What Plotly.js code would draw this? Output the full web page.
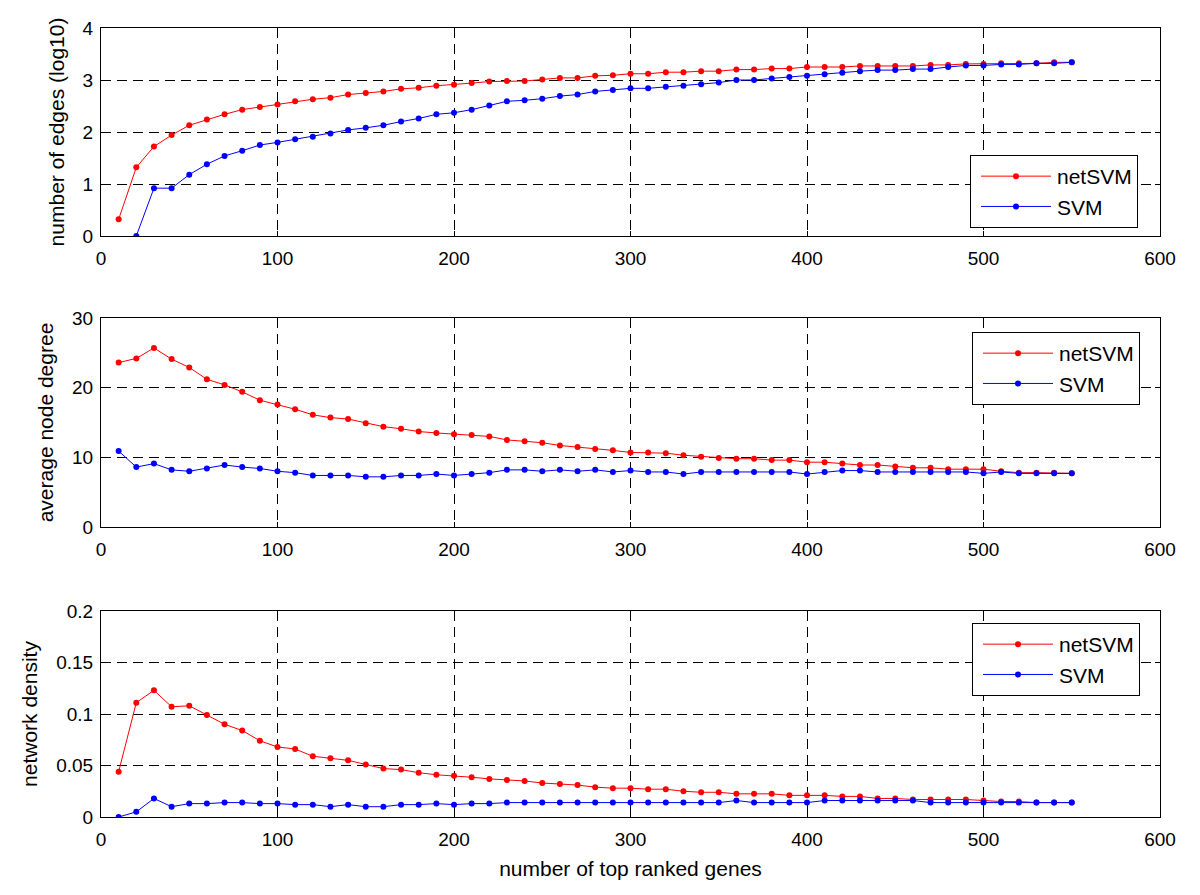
<!DOCTYPE html>
<html>
<head>
<meta charset="utf-8">
<script src="https://cdn.plot.ly/plotly-3.0.1.min.js"></script>
<style>html,body{margin:0;padding:0;background:#fff;}#chart{width:1200px;height:895px;}</style>
</head>
<body>
<div id="chart"></div>
<script>
// number of top ranked genes
var genes = [10,20,30,40,50,60,70,80,90,100,110,120,130,140,150,160,170,180,190,200,
  210,220,230,240,250,260,270,280,290,300,310,320,330,340,350,360,370,380,390,400,
  410,420,430,440,450,460,470,480,490,500,510,520,530,540,550];

// number of edges (log10)
var edgesNetSVM = [0.32,1.32,1.72,1.94,2.13,2.24,2.34,2.43,2.48,2.53,2.59,2.63,2.66,2.72,2.75,2.78,2.83,2.85,2.89,2.91,
  2.94,2.97,2.98,2.98,3.01,3.04,3.04,3.08,3.09,3.12,3.12,3.15,3.15,3.17,3.17,3.20,3.20,3.22,3.22,3.25,
  3.25,3.25,3.27,3.27,3.27,3.27,3.29,3.29,3.31,3.31,3.32,3.32,3.32,3.34,3.34];
var edgesSVM = [null,0.0,0.92,0.92,1.18,1.38,1.54,1.64,1.75,1.80,1.86,1.91,1.97,2.04,2.08,2.13,2.20,2.26,2.34,2.37,
  2.43,2.51,2.59,2.61,2.64,2.69,2.72,2.78,2.81,2.84,2.84,2.87,2.89,2.92,2.95,3.00,3.00,3.03,3.06,3.08,
  3.11,3.14,3.17,3.19,3.19,3.21,3.21,3.25,3.28,3.28,3.30,3.30,3.32,3.32,3.34];

// average node degree
var degreeNetSVM = [23.6,24.2,25.7,24.1,22.9,21.2,20.4,19.4,18.2,17.6,16.9,16.1,15.7,15.5,14.9,14.4,14.1,13.7,13.5,13.3,
  13.2,13.0,12.5,12.3,12.1,11.7,11.5,11.2,11.0,10.7,10.7,10.6,10.3,10.1,9.9,9.8,9.8,9.6,9.6,9.3,
  9.3,9.1,8.9,8.9,8.7,8.5,8.5,8.3,8.3,8.3,8.0,7.8,7.8,7.8,7.7];
var degreeSVM = [10.9,8.6,9.1,8.2,8.0,8.4,8.9,8.6,8.4,8.0,7.8,7.4,7.4,7.4,7.2,7.2,7.4,7.4,7.6,7.4,
  7.6,7.8,8.2,8.2,8.0,8.2,8.0,8.2,7.9,8.1,7.9,7.9,7.6,7.9,7.9,7.9,7.9,7.9,7.9,7.6,
  7.9,8.1,8.1,7.9,7.9,7.9,7.9,7.9,7.9,7.7,7.9,7.7,7.7,7.7,7.7];

// network density
var densityNetSVM = [0.044,0.111,0.123,0.107,0.108,0.099,0.090,0.084,0.074,0.068,0.066,0.059,0.057,0.055,0.051,0.047,0.046,0.043,0.041,0.040,
  0.0386,0.037,0.036,0.035,0.033,0.032,0.031,0.029,0.028,0.028,0.027,0.027,0.025,0.024,0.024,0.0225,0.0225,0.0225,0.021,0.021,
  0.021,0.020,0.020,0.018,0.018,0.017,0.017,0.017,0.017,0.016,0.015,0.015,0.014,0.014,0.014];
var densitySVM = [0.0,0.005,0.018,0.010,0.013,0.013,0.014,0.014,0.013,0.013,0.012,0.012,0.010,0.012,0.010,0.010,0.012,0.012,0.013,0.012,
  0.013,0.013,0.014,0.014,0.014,0.014,0.014,0.014,0.014,0.014,0.014,0.014,0.014,0.014,0.014,0.016,0.014,0.014,0.014,0.014,
  0.016,0.016,0.016,0.016,0.016,0.016,0.014,0.014,0.014,0.014,0.014,0.014,0.014,0.014,0.014];

var seriesNames = ['netSVM','SVM'];
var xTicks = [0,100,200,300,400,500,600];

var RED = '#ff0000', BLUE = '#0000ff';
function tr(y, name, color, xa, ya, legend) {
  return {x: genes, y: y, name: name, type: 'scatter', mode: 'lines+markers',
    xaxis: xa, yaxis: ya, legend: legend, connectgaps: false,
    line: {color: color, width: 1}, marker: {color: color, size: 6}};
}
var data = [
  tr(edgesNetSVM, seriesNames[0], RED, 'x', 'y', 'legend'),
  tr(edgesSVM, seriesNames[1], BLUE, 'x', 'y', 'legend'),
  tr(degreeNetSVM, seriesNames[0], RED, 'x2', 'y2', 'legend2'),
  tr(degreeSVM, seriesNames[1], BLUE, 'x2', 'y2', 'legend2'),
  tr(densityNetSVM, seriesNames[0], RED, 'x3', 'y3', 'legend3'),
  tr(densitySVM, seriesNames[1], BLUE, 'x3', 'y3', 'legend3')
];

var FONT = 'Liberation Sans, Arial, sans-serif';
var TICKSIZE = 19, TITLESIZE = 21;
function xax(anchor, title) {
  var a = {domain: [101/1200, 1160/1200], anchor: anchor, range: [0, 600],
    tickvals: xTicks, ticks: 'inside', ticklen: 5, tickcolor: '#000',
    showline: true, linecolor: '#000', linewidth: 1, mirror: 'ticks',
    showgrid: true, gridcolor: '#000', gridwidth: 1, griddash: '10px,6px',
    zeroline: false, tickfont: {family: FONT, size: TICKSIZE, color: '#000'},
    ticklabelstandoff: 5, fixedrange: true};
  if (title) a.title = {text: title, font: {family: FONT, size: TITLESIZE, color: '#000'}, standoff: 12};
  return a;
}
function yax(anchor, dom, range, dtick, title) {
  return {domain: dom, anchor: anchor, range: range, dtick: dtick, tick0: 0,
    ticks: 'inside', ticklen: 5, tickcolor: '#000',
    showline: true, linecolor: '#000', linewidth: 1, mirror: 'ticks',
    showgrid: true, gridcolor: '#000', gridwidth: 1, griddash: '10px,6px',
    zeroline: false, tickfont: {family: FONT, size: TICKSIZE, color: '#000'},
    ticklabelstandoff: 3,
    title: {text: title, font: {family: FONT, size: TITLESIZE, color: '#000'}, standoff: 12},
    fixedrange: true};
}
function leg(x, y) {
  return {x: x, y: y, xanchor: 'left', yanchor: 'top', bgcolor: '#fff',
    bordercolor: '#000', borderwidth: 1, font: {family: FONT, size: 21, color: '#000'},
    tracegroupgap: 0, itemwidth: 76};
}
var layout = {
  width: 1200, height: 895, paper_bgcolor: '#fff', plot_bgcolor: '#fff',
  margin: {l: 0, r: 0, t: 0, b: 0},
  showlegend: true,
  xaxis: xax('y'),
  yaxis: yax('x', [1-236/895, 1-28/895], [0, 4], 1, 'number of edges (log10)'),
  xaxis2: xax('y2'),
  yaxis2: yax('x2', [1-527/895, 1-318/895], [0, 30], 10, 'average node degree'),
  xaxis3: xax('y3', 'number of top ranked genes'),
  yaxis3: yax('x3', [1-817/895, 1-611/895], [0, 0.2], 0.05, 'network density'),
  legend: leg(970/1200, 1-155/895),
  legend2: leg(972/1200, 1-332/895),
  legend3: leg(972/1200, 1-623/895)
};
Plotly.newPlot('chart', data, layout, {displayModeBar: false, staticPlot: true}).then(function (gd) {
  // MATLAB-style legend samples: longer line with the marker at its middle
  gd.querySelectorAll('.legendlines path').forEach(function (p) { p.setAttribute('d', 'M10,0h70'); });
  gd.querySelectorAll('.legendpoints path').forEach(function (p) { p.setAttribute('transform', 'translate(45,0)'); });
});
</script>
</body>
</html>
